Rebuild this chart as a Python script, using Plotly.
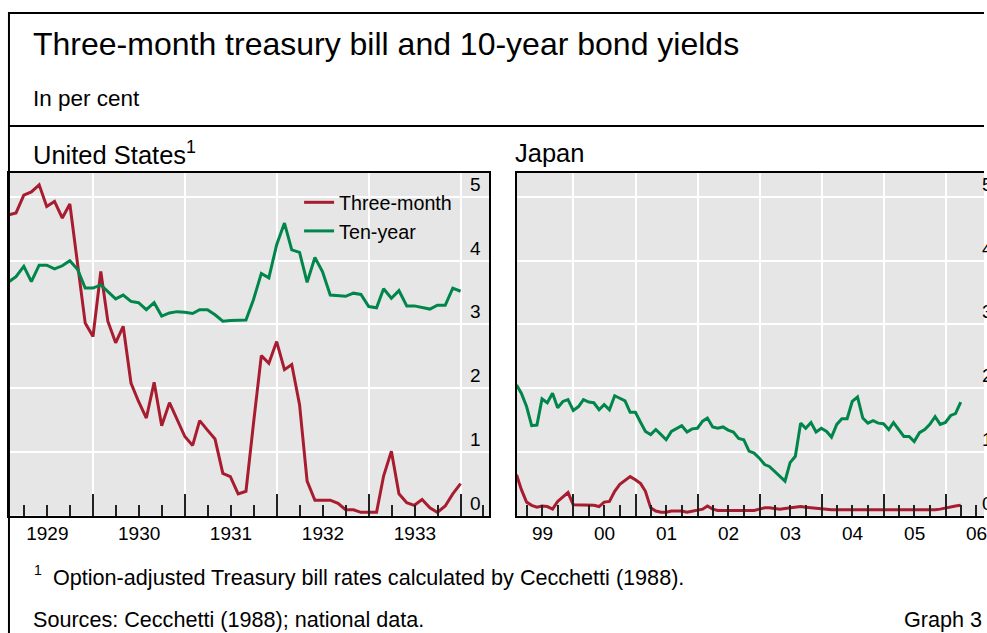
import pandas as pd
import plotly.graph_objects as go

# ---------------- data ----------------
us_dates = pd.date_range("1929-01-31", periods=60, freq="ME")
us_three_month = [4.72, 4.75, 5.03, 5.08, 5.19, 4.85, 4.93, 4.67, 4.89, 3.95,
                  3.02, 2.81, 3.83, 3.05, 2.71, 2.97, 2.08, 1.79, 1.53, 2.09,
                  1.41, 1.77, 1.50, 1.24, 1.10, 1.49, 1.34, 1.20, 0.66, 0.61,
                  0.34, 0.38, 1.45, 2.51, 2.39, 2.73, 2.29, 2.37, 1.74, 0.54,
                  0.24, 0.24, 0.24, 0.19, 0.09, 0.09, 0.05, 0.05, 0.05, 0.62,
                  1.01, 0.34, 0.20, 0.16, 0.25, 0.12, 0.05, 0.15, 0.34, 0.50]
us_ten_year = [3.67, 3.75, 3.91, 3.67, 3.93, 3.93, 3.87, 3.92, 4.00, 3.86,
               3.57, 3.57, 3.62, 3.52, 3.40, 3.46, 3.36, 3.34, 3.23, 3.34,
               3.13, 3.18, 3.20, 3.19, 3.17, 3.23, 3.23, 3.15, 3.05, 3.06,
               3.06, 3.07, 3.39, 3.80, 3.73, 4.25, 4.59, 4.17, 4.13, 3.66,
               4.05, 3.83, 3.46, 3.45, 3.44, 3.49, 3.47, 3.28, 3.26, 3.56,
               3.41, 3.53, 3.29, 3.29, 3.26, 3.24, 3.30, 3.30, 3.57, 3.52]

jp_dates = pd.date_range("1999-01-31", periods=87, freq="ME")
jp_three_month = [0.64, 0.41, 0.21, 0.16, 0.13, 0.15, 0.14, 0.10, 0.22, 0.29,
                  0.36, 0.17, 0.17, 0.17, 0.17, 0.16, 0.14, 0.21, 0.22, 0.38,
                  0.49, 0.55, 0.61, 0.56, 0.50, 0.38, 0.12, 0.07, 0.05, 0.05,
                  0.07, 0.07, 0.07, 0.05, 0.07, 0.08, 0.10, 0.15, 0.10, 0.08,
                  0.08, 0.07, 0.07, 0.07, 0.07, 0.07, 0.08, 0.10, 0.12, 0.12,
                  0.11, 0.10, 0.11, 0.12, 0.13, 0.14, 0.13, 0.12, 0.12, 0.11,
                  0.10, 0.09, 0.09, 0.09, 0.09, 0.09, 0.09, 0.09, 0.09, 0.09,
                  0.09, 0.09, 0.08, 0.08, 0.08, 0.08, 0.08, 0.08, 0.08, 0.08,
                  0.08, 0.09, 0.10, 0.12, 0.14, 0.15, 0.16]
jp_ten_year = [2.05, 1.92, 1.71, 1.41, 1.42, 1.83, 1.77, 1.92, 1.69, 1.79,
               1.82, 1.65, 1.71, 1.82, 1.78, 1.77, 1.66, 1.74, 1.66, 1.88,
               1.84, 1.80, 1.62, 1.62, 1.46, 1.32, 1.27, 1.35, 1.27, 1.19,
               1.32, 1.37, 1.41, 1.31, 1.36, 1.37, 1.48, 1.53, 1.39, 1.37,
               1.39, 1.34, 1.31, 1.21, 1.19, 1.01, 0.98, 0.90, 0.80, 0.77,
               0.69, 0.62, 0.54, 0.83, 0.93, 1.45, 1.37, 1.46, 1.31, 1.37,
               1.32, 1.23, 1.43, 1.52, 1.52, 1.79, 1.86, 1.53, 1.45, 1.49,
               1.45, 1.44, 1.35, 1.46, 1.35, 1.24, 1.24, 1.16, 1.30, 1.35,
               1.43, 1.55, 1.43, 1.46, 1.57, 1.60, 1.78]

y_ticks = [0, 1, 2, 3, 4, 5]
series_names = ["Three-month", "Ten-year"]

# ---------------- styling ----------------
RED = "#A81C30"
GREEN = "#00864B"
BG = "#E6E6E6"
FONT = "Arial, Liberation Sans, sans-serif"
W, H = 987, 633


def px(x):
    return x / W


def py(y):
    return 1 - y / H


fig = go.Figure()
for name, vals, col in [(series_names[0], us_three_month, RED),
                        (series_names[1], us_ten_year, GREEN)]:
    fig.add_trace(go.Scatter(x=us_dates, y=vals, mode="lines", name=name,
                             line=dict(color=col, width=3), xaxis="x", yaxis="y"))
for name, vals, col in [(series_names[0], jp_three_month, RED),
                        (series_names[1], jp_ten_year, GREEN)]:
    fig.add_trace(go.Scatter(x=jp_dates, y=vals, mode="lines", name=name,
                             line=dict(color=col, width=3), showlegend=False,
                             xaxis="x2", yaxis="y2"))

xcommon = dict(type="date", dtick="M12", ticklabelmode="period",
               ticklabeloverflow="allow",
               showgrid=True, gridcolor="white", gridwidth=1.5,
               ticks="inside", ticklen=22, tickwidth=1.5, tickcolor="#222",
               minor=dict(dtick="M3", ticks="inside", ticklen=11, tickwidth=1.5,
                          tickcolor="#222", showgrid=False),
               showline=True, linecolor="black", linewidth=2, mirror=True,
               tickfont=dict(size=19, color="black", family=FONT),
               zeroline=False, fixedrange=True)
ycommon = dict(range=[0, 5.384], tickvals=y_ticks, showticklabels=False,
               showgrid=True, gridcolor="white", gridwidth=1.5, ticks="",
               showline=True, linecolor="black", linewidth=2,
               zeroline=False, fixedrange=True)

ydom = [py(515.5), py(172.5)]
fig.update_layout(
    width=W, height=H, margin=dict(l=0, r=0, t=0, b=0),
    paper_bgcolor="white", plot_bgcolor=BG,
    font=dict(family=FONT, color="black"),
    xaxis=dict(xcommon, domain=[px(9.5), px(490.5)], anchor="y",
               range=["1929-02-02", "1934-04-23"], tick0="1929-01-01",
               tickformat="%Y"),
    yaxis=dict(ycommon, domain=ydom, anchor="x", mirror=True),
    xaxis2=dict(xcommon, domain=[px(518.3), 1.0], anchor="y2",
                range=["1999-02-01", "2006-08-15"], tick0="1999-01-01",
                tickformat="%y"),
    yaxis2=dict(ycommon, domain=ydom, anchor="x2", mirror=False),
    showlegend=True,
    legend=dict(x=px(300), y=py(183), xanchor="left", yanchor="top",
                bgcolor="rgba(0,0,0,0)", borderwidth=0,
                font=dict(size=19.7, family=FONT, color="black"),
                tracegroupgap=0, itemclick=False),
)

ann = []
# y tick labels (inside, above the gridlines)
for v in y_ticks:
    ann.append(dict(x=px(484), y=v, xref="paper", yref="y", text=str(v),
                    xanchor="right", yanchor="middle", yshift=12.5,
                    showarrow=False, font=dict(size=19, family=FONT)))
    ann.append(dict(x=px(982.5), y=v, xref="paper", yref="y2", text=str(v),
                    xanchor="left", yanchor="middle", yshift=12.5,
                    showarrow=False, font=dict(size=19, family=FONT)))

texts = [
    ("Three-month treasury bill and 10-year bond yields", 31.5, 44.2, 32, "left"),
    ("In per cent", 31.5, 99, 22.5, "left"),
    ("United States<sup>1</sup>", 31.5, 152.5, 25.5, "left"),
    ("Japan", 514.5, 152.5, 25.5, "left"),
    ("1", 32, 569.5, 14, "left"),
    ("Option-adjusted Treasury bill rates calculated by Cecchetti (1988).", 51.5, 577, 21.6, "left"),
    ("Sources: Cecchetti (1988); national data.", 31.5, 619.4, 21.6, "left"),
    ("Graph 3", 987, 619.4, 21.6, "right"),
]
for t, x, y, s, anc in texts:
    ann.append(dict(x=px(x), y=py(y), xref="paper", yref="paper", text=t,
                    xanchor=anc, yanchor="middle", showarrow=False,
                    font=dict(size=s, family=FONT, color="black")))
fig.update_layout(annotations=ann)

# outer frame lines
shapes = [
    dict(type="line", xref="paper", yref="paper", x0=px(8), x1=1.0, y0=py(13), y1=py(13),
         line=dict(color="black", width=2)),
    dict(type="line", xref="paper", yref="paper", x0=px(9), x1=px(9), y0=py(13), y1=0,
         line=dict(color="black", width=2)),
    dict(type="line", xref="paper", yref="paper", x0=px(8), x1=1.0, y0=py(126), y1=py(126),
         line=dict(color="black", width=2)),
]
fig.update_layout(shapes=shapes)

fig.write_html("out.html", config={"displayModeBar": False},
               post_script="document.body.style.margin='0px';document.body.style.overflow='hidden';")
